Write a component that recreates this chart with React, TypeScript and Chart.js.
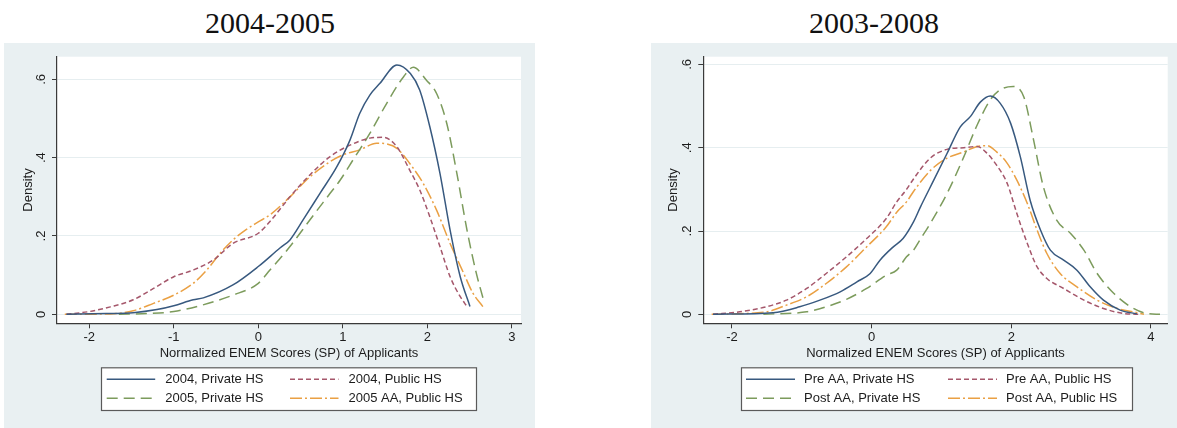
import React, { useEffect, useRef } from 'react';
import { Chart, registerables } from 'chart.js';

Chart.register(...registerables);

// ---------- Panel 1: 2004-2005 ----------
const L_TITLE = '2004-2005';
const L_LABELS = ['2004, Private HS', '2004, Public HS', '2005, Private HS', '2005 AA, Public HS'];
const L_X_TICKS = [-2, -1, 0, 1, 2, 3];
const L_Y_TICKS = [0, 0.2, 0.4, 0.6];

const L_PRIV04_X = [-2.27, -1.8, -1.48, -1.2, -1.0, -0.77, -0.65, -0.3, 0, 0.26, 0.375, 0.53, 0.73, 0.93, 1.085, 1.2, 1.32, 1.44, 1.64, 1.8, 1.91, 2.03, 2.15, 2.27, 2.39, 2.505];
const L_PRIV04_Y = [0, 0.002, 0.004, 0.012, 0.022, 0.037, 0.042, 0.075, 0.122, 0.17, 0.19, 0.241, 0.309, 0.377, 0.445, 0.513, 0.56, 0.59, 0.637, 0.615, 0.573, 0.479, 0.36, 0.215, 0.096, 0.02];

const L_PUB04_X = [-2.27, -2.0, -1.75, -1.48, -1.24, -1.0, -0.77, -0.53, -0.3, 0, 0.138, 0.375, 0.61, 0.85, 1.085, 1.32, 1.48, 1.64, 1.79, 1.91, 2.03, 2.15, 2.27, 2.39, 2.47];
const L_PUB04_Y = [0, 0.007, 0.019, 0.037, 0.066, 0.096, 0.113, 0.139, 0.181, 0.207, 0.237, 0.3, 0.356, 0.403, 0.432, 0.45, 0.452, 0.428, 0.369, 0.318, 0.249, 0.173, 0.096, 0.045, 0.02];

const L_PRIV05_X = [-1.65, -1.3, -1.0, -0.69, -0.3, 0, 0.138, 0.375, 0.61, 0.85, 0.97, 1.12, 1.32, 1.52, 1.72, 1.835, 1.99, 2.11, 2.23, 2.35, 2.47, 2.58, 2.66];
const L_PRIV05_Y = [0, 0.002, 0.007, 0.022, 0.049, 0.079, 0.113, 0.173, 0.241, 0.309, 0.343, 0.394, 0.462, 0.539, 0.607, 0.631, 0.598, 0.564, 0.488, 0.36, 0.215, 0.105, 0.041];

const L_PUB05_X = [-2.29, -1.75, -1.48, -1.24, -1.0, -0.77, -0.61, -0.45, -0.3, -0.14, 0, 0.138, 0.375, 0.61, 0.85, 1.0, 1.2, 1.4, 1.52, 1.64, 1.79, 1.95, 2.11, 2.27, 2.43, 2.54, 2.66];
const L_PUB05_Y = [0, 0.001, 0.009, 0.028, 0.049, 0.079, 0.113, 0.156, 0.19, 0.217, 0.236, 0.254, 0.3, 0.351, 0.39, 0.407, 0.42, 0.437, 0.435, 0.424, 0.386, 0.335, 0.266, 0.181, 0.105, 0.054, 0.019];

// ---------- Panel 2: 2003-2008 ----------
const R_TITLE = '2003-2008';
const R_LABELS = ['Pre AA, Private HS', 'Pre AA, Public HS', 'Post AA, Private HS', 'Post AA, Public HS'];
const R_X_TICKS = [-2, 0, 2, 4];
const R_Y_TICKS = [0, 0.2, 0.4, 0.6];

const R_PRE_PRIV_X = [-2.27, -1.41, -1.03, -0.74, -0.45, -0.21, -0.02, 0.12, 0.31, 0.45, 0.6, 0.7, 0.89, 1.08, 1.27, 1.41, 1.56, 1.7, 1.84, 1.99, 2.13, 2.27, 2.42, 2.56, 2.75, 2.94, 3.13, 3.32, 3.56, 3.8];
const R_PRE_PRIV_Y = [0, 0.004, 0.018, 0.034, 0.054, 0.078, 0.098, 0.13, 0.162, 0.182, 0.222, 0.258, 0.322, 0.386, 0.45, 0.474, 0.51, 0.524, 0.507, 0.459, 0.378, 0.274, 0.202, 0.154, 0.13, 0.106, 0.066, 0.034, 0.01, 0.001];

const R_PRE_PUB_X = [-2.27, -1.89, -1.51, -1.22, -0.93, -0.65, -0.36, -0.07, 0.21, 0.36, 0.5, 0.6, 0.84, 1.08, 1.32, 1.51, 1.65, 1.79, 1.94, 2.08, 2.23, 2.37, 2.51, 2.75, 3.04, 3.32, 3.61, 3.85];
const R_PRE_PUB_Y = [0, 0.006, 0.018, 0.034, 0.062, 0.098, 0.138, 0.182, 0.23, 0.27, 0.3, 0.325, 0.375, 0.396, 0.4, 0.403, 0.387, 0.358, 0.315, 0.242, 0.17, 0.114, 0.086, 0.062, 0.034, 0.014, 0.002, 0];

const R_POST_PRIV_X = [-1.55, -0.93, -0.65, -0.36, -0.07, 0.21, 0.36, 0.5, 0.6, 0.69, 0.84, 1.08, 1.32, 1.51, 1.7, 1.84, 2.03, 2.18, 2.32, 2.46, 2.65, 2.85, 3.04, 3.23, 3.47, 3.71, 3.94, 4.13];
const R_POST_PRIV_Y = [0, 0.006, 0.018, 0.036, 0.062, 0.094, 0.106, 0.138, 0.154, 0.178, 0.218, 0.29, 0.378, 0.454, 0.515, 0.539, 0.547, 0.522, 0.418, 0.306, 0.226, 0.194, 0.154, 0.098, 0.05, 0.018, 0.002, 0];

const R_POST_PUB_X = [-2.29, -1.51, -1.22, -0.93, -0.65, -0.36, -0.07, 0.21, 0.36, 0.5, 0.6, 0.84, 1.08, 1.32, 1.51, 1.65, 1.79, 1.94, 2.08, 2.23, 2.37, 2.51, 2.7, 2.94, 3.23, 3.52, 3.8, 3.9];
const R_POST_PUB_Y = [0, 0.006, 0.022, 0.042, 0.074, 0.114, 0.162, 0.21, 0.245, 0.27, 0.295, 0.345, 0.375, 0.39, 0.403, 0.405, 0.39, 0.363, 0.322, 0.266, 0.202, 0.146, 0.098, 0.066, 0.034, 0.014, 0.004, 0];

// ---------- styles ----------
const FONT = '"Liberation Sans", Arial, Helvetica, sans-serif';
const BG = '#e9f0f2';
const GRID = '#e6eef0';
const AXIS = '#3a3a3a';
const TEXT = '#1c1c1c';
const STYLES = [
  { color: '#38597f', dash: [] as number[] },
  { color: '#a5576b', dash: [5, 3] },
  { color: '#7c9b5c', dash: [11, 6] },
  { color: '#eaa043', dash: [12, 3, 2, 3] },
];

const zip = (xs: number[], ys: number[]) => xs.map((x, i) => ({ x, y: ys[i] }));

const plotBg = {
  id: 'plotBg',
  beforeDraw(chart: any) {
    const { ctx, chartArea: a } = chart;
    ctx.save();
    ctx.fillStyle = '#ffffff';
    ctx.fillRect(a.left, a.top, a.right - a.left, a.bottom - a.top);
    ctx.restore();
  },
};

const boxLegend = {
  id: 'boxLegend',
  afterDraw(chart: any, _args: any, opts: any) {
    const { ctx } = chart;
    const { left, top, width, height, cols, rows, lineLen, textGap } = opts;
    ctx.save();
    ctx.fillStyle = '#ffffff';
    ctx.fillRect(left, top, width, height);
    ctx.strokeStyle = '#5a5a5a';
    ctx.lineWidth = 1.2;
    ctx.strokeRect(left + 0.5, top + 0.5, width, height);
    ctx.font = '13px ' + FONT;
    ctx.textBaseline = 'middle';
    ctx.textAlign = 'left';
    chart.data.datasets.forEach((ds: any, i: number) => {
      const cx = cols[i % 2];
      const cy = rows[Math.floor(i / 2)];
      ctx.strokeStyle = ds.borderColor;
      ctx.lineWidth = ds.borderWidth;
      ctx.setLineDash(ds.borderDash || []);
      ctx.beginPath();
      ctx.moveTo(cx, cy);
      ctx.lineTo(cx + lineLen, cy);
      ctx.stroke();
      ctx.setLineDash([]);
      ctx.fillStyle = TEXT;
      ctx.fillText(ds.label, cx + textGap, cy);
    });
    ctx.restore();
  },
};

type PanelProps = {
  labels: string[];
  series: { x: number[]; y: number[] }[];
  xTicks: number[];
  yTicks: number[];
  xMin: number; xMax: number; yMin: number; yMax: number;
  width: number; height: number;
  yAxisWidth: number; padRight: number; yTitlePad: number;
  legend: any;
};

function Panel(p: PanelProps) {
  const ref = useRef<HTMLCanvasElement>(null);
  useEffect(() => {
    if (!ref.current) return;
    const chart = new Chart(ref.current, {
      type: 'line',
      data: {
        datasets: p.series.map((s, i) => ({
          label: p.labels[i],
          data: zip(s.x, s.y),
          borderColor: STYLES[i].color,
          borderDash: STYLES[i].dash,
          borderWidth: 1.5,
          pointRadius: 0,
          fill: false,
          cubicInterpolationMode: 'monotone' as const,
        })),
      },
      options: {
        responsive: false,
        animation: false,
        devicePixelRatio: 1,
        layout: { padding: { left: 0, top: 13.7, right: p.padRight, bottom: 67.2 } },
        plugins: {
          legend: { display: false },
          tooltip: { enabled: false },
          boxLegend: p.legend,
        } as any,
        scales: {
          x: {
            type: 'linear',
            min: p.xMin,
            max: p.xMax,
            afterBuildTicks: (s: any) => { s.ticks = p.xTicks.map((v) => ({ value: v })); },
            afterFit: (s: any) => { s.height = 37.5; },
            grid: { drawOnChartArea: false, tickLength: 5, tickColor: AXIS, tickWidth: 1 },
            border: { display: true, color: AXIS, width: 1.2 },
            ticks: {
              padding: 1,
              color: TEXT,
              font: { family: FONT, size: 13 },
              maxRotation: 0,
              callback: (v: any) => String(v),
            },
            title: {
              display: true,
              text: 'Normalized ENEM Scores (SP) of Applicants',
              color: TEXT,
              font: { family: FONT, size: 13 },
              padding: { top: 0, bottom: 0 },
            },
          },
          y: {
            type: 'linear',
            min: p.yMin,
            max: p.yMax,
            afterBuildTicks: (s: any) => { s.ticks = p.yTicks.map((v) => ({ value: v })); },
            afterFit: (s: any) => { s.width = p.yAxisWidth; },
            grid: { color: GRID, lineWidth: 1, tickLength: 5, tickColor: AXIS, tickWidth: 1 },
            border: { display: true, color: AXIS, width: 1.2 },
            ticks: {
              padding: 5,
              color: TEXT,
              font: { family: FONT, size: 13 },
              minRotation: 90,
              maxRotation: 90,
              crossAlign: 'center',
              callback: (v: any) => (v === 0 ? '0' : String(v).replace(/^0/, '')),
            },
            title: {
              display: true,
              text: 'Density',
              color: TEXT,
              font: { family: FONT, size: 13 },
              padding: { top: p.yTitlePad, bottom: 0 },
            },
          },
        },
      } as any,
      plugins: [plotBg, boxLegend],
    });
    return () => chart.destroy();
  }, []);
  return <canvas ref={ref} width={p.width} height={p.height} style={{ display: 'block', width: p.width, height: p.height }} />;
}

const titleStyle: React.CSSProperties = {
  position: 'absolute',
  top: 4,
  fontFamily: '"Liberation Serif", "Times New Roman", serif',
  fontSize: 30,
  lineHeight: '38px',
  color: '#111',
  textAlign: 'center',
  whiteSpace: 'nowrap',
};

export default function App() {
  return (
    <div style={{ position: 'absolute', left: 0, top: 0, width: 1177, height: 428, background: '#fff', overflow: 'hidden' }}>
      <div style={{ ...titleStyle, left: 170, width: 200 }}>{L_TITLE}</div>
      <div style={{ ...titleStyle, left: 774, width: 200 }}>{R_TITLE}</div>

      <div style={{ position: 'absolute', left: 4, top: 43, width: 531, height: 385, background: BG }}>
        <Panel
          labels={L_LABELS}
          series={[
            { x: L_PRIV04_X, y: L_PRIV04_Y },
            { x: L_PUB04_X, y: L_PUB04_Y },
            { x: L_PRIV05_X, y: L_PRIV05_Y },
            { x: L_PUB05_X, y: L_PUB05_Y },
          ]}
          xTicks={L_X_TICKS}
          yTicks={L_Y_TICKS}
          xMin={-2.382} xMax={3.109} yMin={-0.023} yMax={0.658}
          width={531} height={385}
          yAxisWidth={53} padRight={14} yTitlePad={16.2}
          legend={{ left: 97, top: 324.3, width: 375, height: 42.7, cols: [102.7, 286], rows: [336.3, 355.3], lineLen: 48.5, textGap: 58.5 }}
        />
      </div>

      <div style={{ position: 'absolute', left: 651, top: 43, width: 526, height: 385, background: BG }}>
        <Panel
          labels={R_LABELS}
          series={[
            { x: R_PRE_PRIV_X, y: R_PRE_PRIV_Y },
            { x: R_PRE_PUB_X, y: R_PRE_PUB_Y },
            { x: R_POST_PRIV_X, y: R_POST_PRIV_Y },
            { x: R_POST_PUB_X, y: R_POST_PUB_Y },
          ]}
          xTicks={R_X_TICKS}
          yTicks={R_Y_TICKS}
          xMin={-2.41} xMax={4.24} yMin={-0.0216} yMax={0.6185}
          width={526} height={385}
          yAxisWidth={52.3} padRight={9.3} yTitlePad={14.2}
          legend={{ left: 90, top: 324.3, width: 391, height: 42.7, cols: [95, 297], rows: [336.3, 355.3], lineLen: 49, textGap: 58 }}
        />
      </div>
    </div>
  );
}
